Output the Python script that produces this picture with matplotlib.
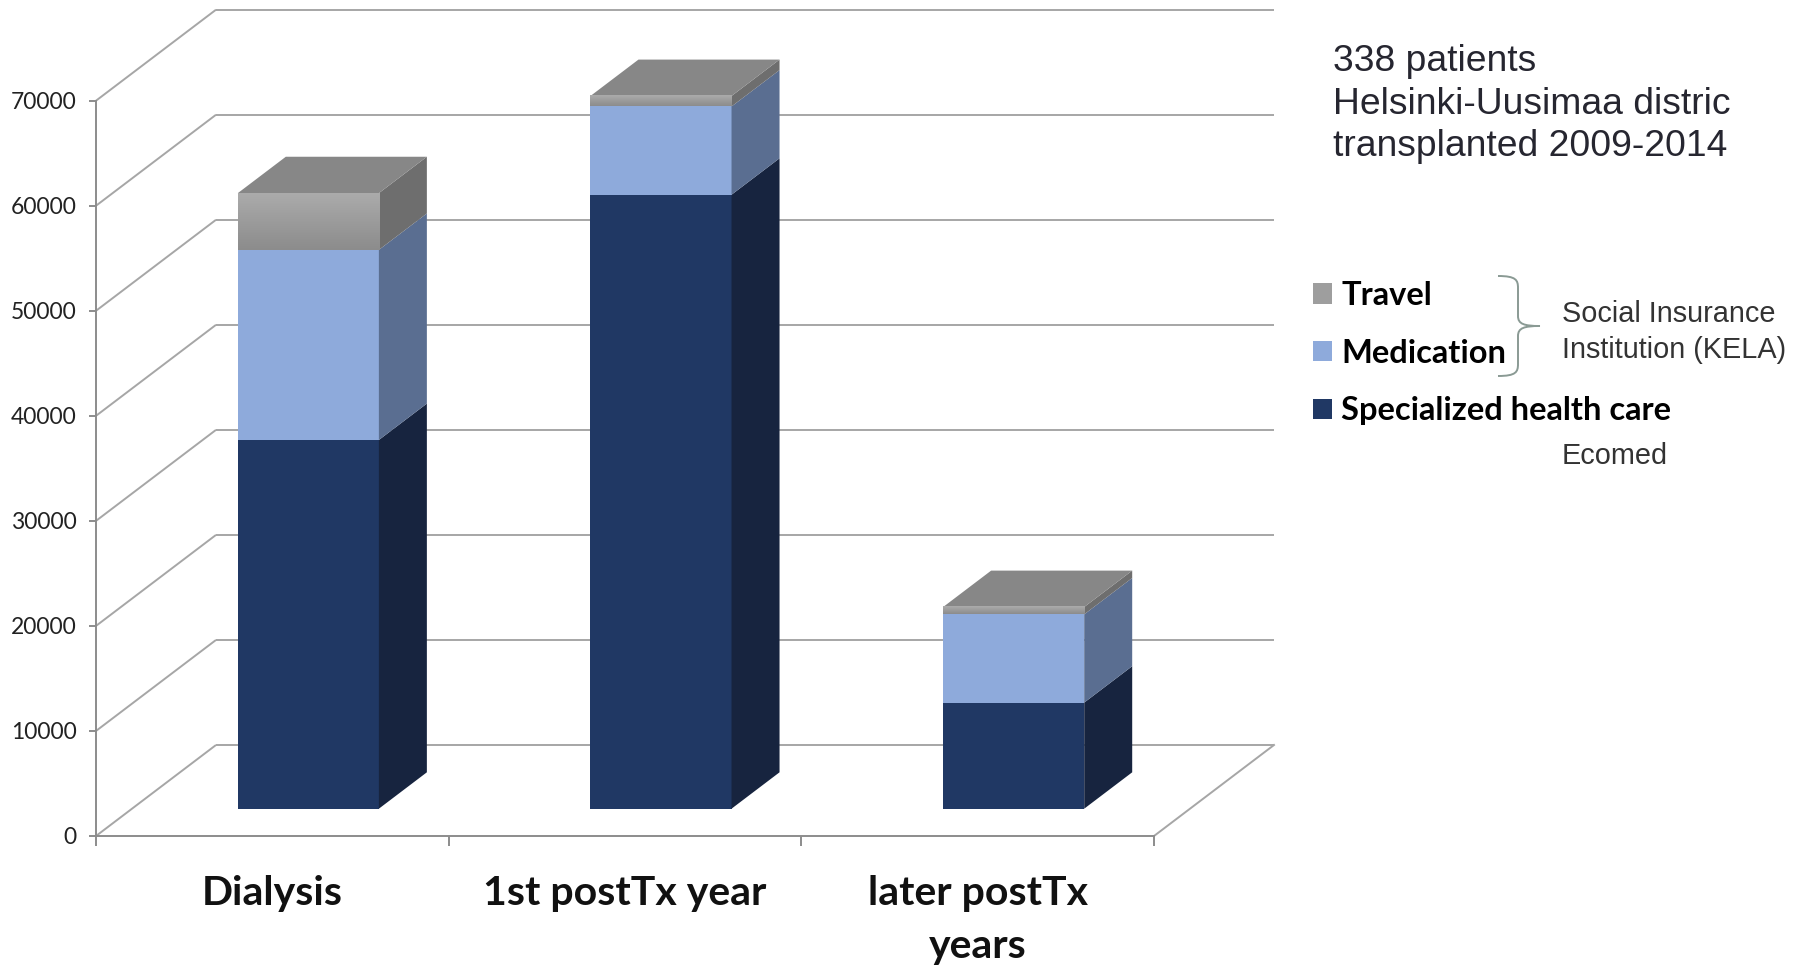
import matplotlib
matplotlib.use("Agg")
import matplotlib.pyplot as plt
import numpy as np
from matplotlib.patches import Polygon, PathPatch
from matplotlib.path import Path
from matplotlib.colors import LinearSegmentedColormap

# ---------------- data ----------------
categories = ["Dialysis", "1st postTx year", "later postTx\nyears"]
series_names = ["Specialized health care", "Medication", "Travel"]
specialized = [35100, 58450, 10100]
medication = [18100, 8400, 8400]
travel = [5400, 1000, 700]
y_ticks = [0, 10000, 20000, 30000, 40000, 50000, 60000, 70000]
y_tick_labels = ["0", "10000", "20000", "30000", "40000", "50000", "60000", "70000"]
note_lines = ["338 patients", "Helsinki-Uusimaa distric", "transplanted 2009-2014"]
source_kela = "Social Insurance\nInstitution (KELA)"
source_ecomed = "Ecomed"

# ---------------- styles ----------------
front_cols = ["#203864", "#8eaadb", "#9e9e9e"]
side_cols = ["#17243f", "#5a6e91", "#6e6e6e"]
top_col = "#878787"
grid_col = "#a6a6a6"
axis_col = "#8c8c8c"

W, H = 1795, 968
fig = plt.figure(figsize=(W / 100, H / 100), dpi=100)
fig.patch.set_facecolor("white")

# front plane of the 3D box in pixels
x0_px, x1_px = 96, 1154
y0_px, ytop_px = 836, 100.7
ax = fig.add_axes([x0_px / W, 1 - y0_px / H, (x1_px - x0_px) / W, (y0_px - ytop_px) / H])
ncat = len(categories)
ymax = y_ticks[-1]
ax.set_xlim(0, ncat)
ax.set_ylim(0, ymax)

px_per_x = (x1_px - x0_px) / ncat
px_per_y = (y0_px - ytop_px) / ymax
DX = 120 / px_per_x   # full depth offset in x data units
DY = 91 / px_per_y    # full depth offset in y data units

# ---- walls / gridlines ----
for v in y_ticks:
    ax.plot([0, DX], [v, v + DY], color=grid_col, lw=1.4, clip_on=False, zorder=1,
            solid_capstyle="butt")
    ax.plot([DX, ncat + DX], [v + DY, v + DY], color=grid_col, lw=1.4, clip_on=False,
            zorder=1, solid_capstyle="butt")
ax.plot([ncat, ncat + DX], [0, DY], color=grid_col, lw=1.4, clip_on=False, zorder=1)

# ---- 3D stacked bars ----
bar_front = 0.30
bar_depth = 0.40
bar_w = 0.40
xc = np.arange(ncat) + 0.5 + bar_front * DX
base = bar_front * DY
series = [specialized, medication, travel]
bottom = np.full(ncat, base, dtype=float)
containers = []
grad = LinearSegmentedColormap.from_list("g", ["#8c8c8c", "#ababab"])
for k, vals in enumerate(series):
    vals = np.asarray(vals, dtype=float)
    bc = ax.bar(xc, vals, width=bar_w, bottom=bottom, color=front_cols[k],
                edgecolor="none", clip_on=False, zorder=4, label=series_names[k])
    containers.append(bc)
    for i in range(ncat):
        xr = xc[i] + bar_w / 2
        b, t = bottom[i], bottom[i] + vals[i]
        side = Polygon([(xr, b), (xr, t), (xr + bar_depth * DX, t + bar_depth * DY),
                        (xr + bar_depth * DX, b + bar_depth * DY)],
                       closed=True, facecolor=side_cols[k], edgecolor="none",
                       clip_on=False, zorder=4)
        ax.add_patch(side)
        if k == 2:
            xl = xc[i] - bar_w / 2
            im = ax.imshow(np.linspace(0, 1, 64).reshape(-1, 1), cmap=grad, origin="lower",
                           extent=[xl, xr, b, t], aspect="auto", zorder=5,
                           interpolation="bilinear")
            im.set_clip_on(False)
    bottom = bottom + vals

for i in range(ncat):
    xl, xr = xc[i] - bar_w / 2, xc[i] + bar_w / 2
    T = bottom[i]
    top = Polygon([(xl, T), (xr, T), (xr + bar_depth * DX, T + bar_depth * DY),
                   (xl + bar_depth * DX, T + bar_depth * DY)],
                  closed=True, facecolor=top_col, edgecolor="none", clip_on=False, zorder=4)
    ax.add_patch(top)

ax.set_xlim(0, ncat)
ax.set_ylim(0, ymax)

# ---- axes styling ----
for s in ["top", "right"]:
    ax.spines[s].set_visible(False)
for s in ["left", "bottom"]:
    ax.spines[s].set_color(axis_col)
    ax.spines[s].set_linewidth(1.4)
    ax.spines[s].set_zorder(2)

ax.set_yticks(y_ticks)
ax.set_yticklabels(y_tick_labels)
ax.tick_params(axis="y", direction="out", length=5, width=1.4, color=axis_col,
               labelsize=16.5, pad=9, labelcolor="#222222")
for lab in ax.get_yticklabels():
    lab.set_family("Lato")

ax.set_xticks(np.arange(ncat + 1))
ax.set_xticklabels([""] * (ncat + 1))
ax.tick_params(axis="x", which="major", direction="out", length=7, width=1.4, color=axis_col)
ax.set_xticks(np.arange(ncat) + 0.5, minor=True)
ax.set_xticklabels(categories, minor=True, fontsize=29.5, fontweight="bold",
                   family="Lato", linespacing=1.55)
ax.tick_params(axis="x", which="minor", length=0, pad=28, labelcolor="#111111")
ax.set_facecolor("none")

# ---- legend ----
handles = [containers[2], containers[1], containers[0]]
labels = [series_names[2], series_names[1], series_names[0]]
leg = ax.legend(handles, labels, loc="upper left",
                bbox_to_anchor=(1313 / W, 1 - 281 / H), bbox_transform=fig.transFigure,
                frameon=False, borderpad=0, borderaxespad=0,
                prop={"family": "Lato", "weight": "bold", "size": 23.5},
                handlelength=0.58, handleheight=0.58, handletextpad=0.28,
                labelspacing=0.88)
leg.legend_handles[0].set_facecolor("#9e9e9e")

# ---- brace ----
def fx(px):
    return px / W

def fy(py):
    return 1 - py / H

bx0, bx1, btip = 1498, 1518, 1540
yt, ym, yb = 276, 326, 376
verts = [
    (bx0, yt), (bx1 - 2, yt), (bx1, yt + 4), (bx1, yt + 12),
    (bx1, ym - 10),
    (bx1, ym - 2), (bx1 + 6, ym), (btip, ym),
    (bx1 + 6, ym), (bx1, ym + 2), (bx1, ym + 10),
    (bx1, yb - 12),
    (bx1, yb - 4), (bx1 - 2, yb), (bx0, yb),
]
codes = [Path.MOVETO, Path.CURVE4, Path.CURVE4, Path.CURVE4,
         Path.LINETO,
         Path.CURVE4, Path.CURVE4, Path.CURVE4,
         Path.CURVE4, Path.CURVE4, Path.CURVE4,
         Path.LINETO,
         Path.CURVE4, Path.CURVE4, Path.CURVE4]
path = Path([(fx(x), fy(y)) for x, y in verts], codes)
fig.add_artist(PathPatch(path, transform=fig.transFigure, facecolor="none",
                         edgecolor="#8a9a94", lw=1.4))

# ---- annotation text ----
fig.text(1333 / W, 1 - 44 / H, "\n".join(note_lines), family="Liberation Sans",
         fontsize=26.8, color="#262630", va="top", ha="left", linespacing=1.28)
fig.text(1562 / W, 1 - 332 / H, source_kela, family="Liberation Sans",
         fontsize=20.8, color="#333333", va="center", ha="left", linespacing=1.4)
fig.text(1562 / W, 1 - 456 / H, source_ecomed, family="Liberation Sans",
         fontsize=20.8, color="#333333", va="center", ha="left")

fig.savefig("out.png", dpi=100, facecolor="white")
